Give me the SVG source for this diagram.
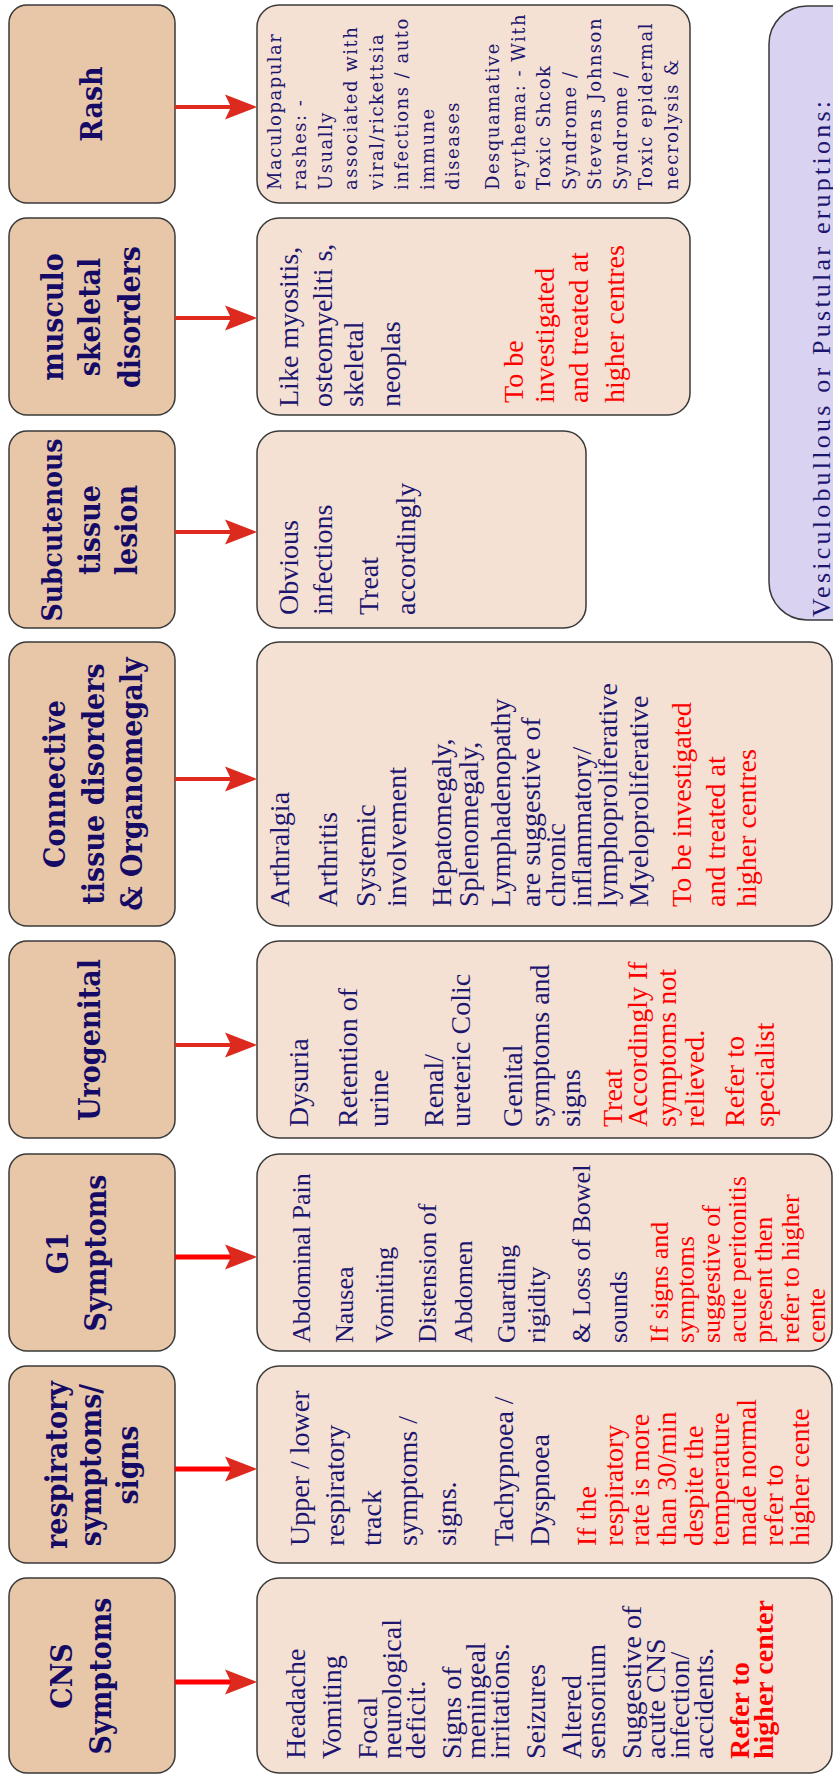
<svg xmlns="http://www.w3.org/2000/svg" width="833" height="1775" viewBox="0 0 833 1775">
<style>
  .hdr { fill: #e8c7a9; stroke: #3a3a3a; stroke-width: 1.5; }
  .box { fill: #f5e1d3; stroke: #3a3a3a; stroke-width: 1.5; }
  .side { fill: #d9d3f1; stroke: #3a3a3a; stroke-width: 1.5; }
  .ht { font-family: "DejaVu Serif Condensed", "DejaVu Serif", serif; font-stretch: condensed; font-weight: bold; font-size: 30px; fill: #150b66; text-anchor: middle; }
  .ht28 { font-size: 28px; }
  .t { font-family: "Liberation Serif", "Times New Roman", serif; font-size: 28px; fill: #1d1670; }
  .g1 { font-size: 26px; }
  .v26 { font-size: 26px; }
  .sm { font-family: "DejaVu Serif", serif; font-size: 18px; letter-spacing: 1.5px; }
  .r { fill: #ff0000; }
  .b { font-weight: bold; }
  .ln { stroke: #ff0000; stroke-width: 5; }
  .ln2 { stroke: #df2a1d; stroke-width: 4; }
  .hd { fill: #dc2a1e; }
</style>
<defs>
  <path id="head" d="M0,0 L-32,-12.5 L-26,0 L-32,12.5 Z"/>
</defs>

<!-- whole chart is laid out landscape and turned a quarter turn -->
<g id="chart" transform="translate(0,1775) rotate(-90)">

  <!-- CNS -->
  <g id="cns-head">
    <rect class="hdr" x="2" y="9" width="195" height="166" rx="18"/>
    <text class="ht" x="99" y="72">CNS</text>
    <text class="ht" x="99" y="111">Symptoms</text>
  </g>
  <g id="cns-detail">
    <rect class="box" x="2" y="257" width="195" height="575" rx="22"/>
    <g class="t">
      <text x="16" y="305">Headache</text>
      <text x="16" y="341">Vomiting</text>
      <text x="16" y="377">Focal</text>
      <text x="16" y="401">neurological</text>
      <text x="16" y="425">deficit.</text>
      <text x="16" y="461">Signs of</text>
      <text x="16" y="485">meningeal</text>
      <text x="16" y="509">irritations.</text>
      <text x="16" y="545">Seizures</text>
      <text x="16" y="581">Altered</text>
      <text x="16" y="605">sensorium</text>
      <text x="16" y="641">Suggestive of</text>
      <text x="16" y="665">acute CNS</text>
      <text x="16" y="689">infection/</text>
      <text x="16" y="713">accidents.</text>
      <text class="r b" x="16" y="749">Refer to</text>
      <text class="r b" x="16" y="773">higher center</text>
    </g>
  </g>

  <!-- respiratory -->
  <g id="resp-head">
    <rect class="hdr" x="212" y="9" width="197" height="166" rx="18"/>
    <text class="ht" x="310" y="67">respiratory</text>
    <text class="ht" x="310" y="101">symptoms/</text>
    <text class="ht" x="310" y="138">signs</text>
  </g>
  <g id="resp-detail">
    <rect class="box" x="212" y="257" width="197" height="575" rx="22"/>
    <g class="t">
      <text x="229" y="309">Upper / lower</text>
      <text x="229" y="344">respiratory</text>
      <text x="229" y="381">track</text>
      <text x="229" y="417">symptoms /</text>
      <text x="229" y="456">signs.</text>
      <text x="229" y="513">Tachypnoea /</text>
      <text x="229" y="549">Dyspnoea</text>
      <g class="r">
        <text x="229" y="596">If  the</text>
        <text x="229" y="623">respiratory</text>
        <text x="229" y="649">rate is more</text>
        <text x="229" y="676">than 30/min</text>
        <text x="229" y="703">despite the</text>
        <text x="229" y="729">temperature</text>
        <text x="229" y="756">made normal</text>
        <text x="229" y="783">refer to</text>
        <text x="229" y="809">higher cente</text>
      </g>
    </g>
  </g>

  <!-- G1 -->
  <g id="gi-head">
    <rect class="hdr" x="424" y="9" width="197" height="166" rx="18"/>
    <text class="ht" x="522" y="68">G1</text>
    <text class="ht" x="522" y="106">Symptoms</text>
  </g>
  <g id="gi-detail">
    <rect class="box" x="424" y="257" width="197" height="575" rx="22"/>
    <g class="t g1">
      <text x="432" y="310">Abdominal Pain</text>
      <text x="432" y="353">Nausea</text>
      <text x="432" y="393">Vomiting</text>
      <text x="432" y="436">Distension of</text>
      <text x="432" y="472">Abdomen</text>
      <text x="432" y="515">Guarding</text>
      <text x="432" y="545">rigidity</text>
      <text x="432" y="590">&amp; Loss of Bowel</text>
      <text x="432" y="627">sounds</text>
      <g class="r">
        <text x="432" y="668">If signs and</text>
        <text x="432" y="694">symptoms</text>
        <text x="432" y="720">suggestive of</text>
        <text x="432" y="746">acute peritonitis</text>
        <text x="432" y="772">present then</text>
        <text x="432" y="799">refer to higher</text>
        <text x="432" y="825">cente</text>
      </g>
    </g>
  </g>

  <!-- Urogenital -->
  <g id="uro-head">
    <rect class="hdr" x="637" y="9" width="197" height="166" rx="18"/>
    <text class="ht" x="735" y="100">Urogenital</text>
  </g>
  <g id="uro-detail">
    <rect class="box" x="637" y="257" width="197" height="575" rx="22"/>
    <g class="t">
      <text x="648" y="308">Dysuria</text>
      <text x="648" y="357">Retention of</text>
      <text x="648" y="388">urine</text>
      <text x="648" y="443">Renal/</text>
      <text x="648" y="470">ureteric Colic</text>
      <text x="648" y="522">Genital</text>
      <text x="648" y="549">symptoms and</text>
      <text x="648" y="580">signs</text>
      <g class="r">
        <text x="648" y="622">Treat</text>
        <text x="648" y="647">Accordingly If</text>
        <text x="648" y="676">symptoms not</text>
        <text x="648" y="704">relieved.</text>
        <text x="648" y="744">Refer to</text>
        <text x="648" y="774">specialist</text>
      </g>
    </g>
  </g>

  <!-- Connective tissue -->
  <g id="ctd-head">
    <rect class="hdr" x="849" y="9" width="284" height="166" rx="18"/>
    <text class="ht" x="991" y="65">Connective</text>
    <text class="ht" x="991" y="104">tissue disorders</text>
    <text class="ht" x="991" y="142">&amp; Organomegaly</text>
  </g>
  <g id="ctd-detail">
    <rect class="box" x="849" y="257" width="284" height="575" rx="22"/>
    <g class="t">
      <text x="868" y="289">Arthralgia</text>
      <text x="868" y="337">Arthritis</text>
      <text x="868" y="375">Systemic</text>
      <text x="868" y="406">involvement</text>
      <text x="868" y="451">Hepatomegaly,</text>
      <text x="868" y="478">Splenomegaly,</text>
      <text x="868" y="510">Lymphadenopathy</text>
      <text x="868" y="540">are suggestive of</text>
      <text x="868" y="565">chronic</text>
      <text x="868" y="591">inflammatory/</text>
      <text x="868" y="617">lymphoproliferative</text>
      <text x="868" y="648">Myeloproliferative</text>
      <g class="r">
        <text x="868" y="691">To be investigated</text>
        <text x="868" y="725">and treated at</text>
        <text x="868" y="756">higher centres</text>
      </g>
    </g>
  </g>

  <!-- Subcutaneous -->
  <g id="sub-head">
    <rect class="hdr" x="1147" y="9" width="197" height="166" rx="18"/>
    <text class="ht ht28" x="1245" y="62">Subcutenous</text>
    <text class="ht" x="1245" y="100">tissue</text>
    <text class="ht" x="1245" y="137">lesion</text>
  </g>
  <g id="sub-detail">
    <rect class="box" x="1147" y="257" width="197" height="329" rx="22"/>
    <g class="t">
      <text x="1160" y="298">Obvious</text>
      <text x="1160" y="332">infections</text>
      <text x="1160" y="378">Treat</text>
      <text x="1160" y="415">accordingly</text>
    </g>
  </g>

  <!-- musculo skeletal -->
  <g id="msk-head">
    <rect class="hdr" x="1360" y="9" width="197" height="166" rx="18"/>
    <text class="ht" x="1458" y="63">musculo</text>
    <text class="ht" x="1458" y="100">skeletal</text>
    <text class="ht" x="1458" y="140">disorders</text>
  </g>
  <g id="msk-detail">
    <rect class="box" x="1360" y="257" width="197" height="433" rx="22"/>
    <g class="t">
      <text x="1368" y="298">Like myositis,</text>
      <text x="1368" y="332">osteomyeliti s,</text>
      <text x="1368" y="363">skeletal</text>
      <text x="1368" y="400">neoplas</text>
      <g class="r">
        <text x="1372" y="523">To be</text>
        <text x="1372" y="554">investigated</text>
        <text x="1372" y="588">and treated at</text>
        <text x="1372" y="624">higher centres</text>
      </g>
    </g>
  </g>

  <!-- Rash -->
  <g id="rash-head">
    <rect class="hdr" x="1572" y="9" width="198" height="166" rx="18"/>
    <text class="ht" x="1671" y="102">Rash</text>
  </g>
  <g id="rash-detail">
    <rect class="box" x="1572" y="257" width="198" height="433" rx="22"/>
    <g class="t sm">
      <text x="1585" y="281">Maculopapular</text>
      <text x="1585" y="306">rashes: -</text>
      <text x="1585" y="332">Usually</text>
      <text x="1585" y="357">associated with</text>
      <text x="1585" y="383">viral/rickettsia</text>
      <text x="1585" y="408">infections / auto</text>
      <text x="1585" y="434">immune</text>
      <text x="1585" y="459">diseases</text>
      <text x="1585" y="499">Desquamative</text>
      <text x="1585" y="525">erythema: - With</text>
      <text x="1585" y="550">Toxic Shcok</text>
      <text x="1585" y="576">Syndrome /</text>
      <text x="1585" y="601">Stevens Johnson</text>
      <text x="1585" y="627">Syndrome /</text>
      <text x="1585" y="652">Toxic epidermal</text>
      <text x="1585" y="678">necrolysis &amp;</text>
    </g>
  </g>

  <!-- vesicular eruptions panel -->
  <g id="vesicular">
    <rect class="side" x="1155" y="769" width="614" height="100" rx="38"/>
    <text class="t v26" x="1158" y="830" textLength="516" lengthAdjust="spacing">Vesiculobullous or Pustular eruptions:</text>
  </g>
</g>

<!-- arrows from each heading to its details -->
<g id="connectors">
  <line class="ln2" x1="175" y1="107" x2="232" y2="107"/>
  <use href="#head" class="hd" transform="translate(257,107)"/>
  <line class="ln2" x1="175" y1="318" x2="232" y2="318"/>
  <use href="#head" class="hd" transform="translate(257,318)"/>
  <line class="ln2" x1="175" y1="532" x2="232" y2="532"/>
  <use href="#head" class="hd" transform="translate(257,532)"/>
  <line class="ln2" x1="175" y1="779" x2="232" y2="779"/>
  <use href="#head" class="hd" transform="translate(257,779)"/>
  <line class="ln2" x1="175" y1="1045" x2="232" y2="1045"/>
  <use href="#head" class="hd" transform="translate(257,1045)"/>
  <line class="ln" x1="175" y1="1257" x2="232" y2="1257"/>
  <use href="#head" class="hd" transform="translate(257,1257)"/>
  <line class="ln" x1="175" y1="1469" x2="232" y2="1469"/>
  <use href="#head" class="hd" transform="translate(257,1469)"/>
  <line class="ln" x1="175" y1="1682" x2="232" y2="1682"/>
  <use href="#head" class="hd" transform="translate(257,1682)"/>
</g>
</svg>
